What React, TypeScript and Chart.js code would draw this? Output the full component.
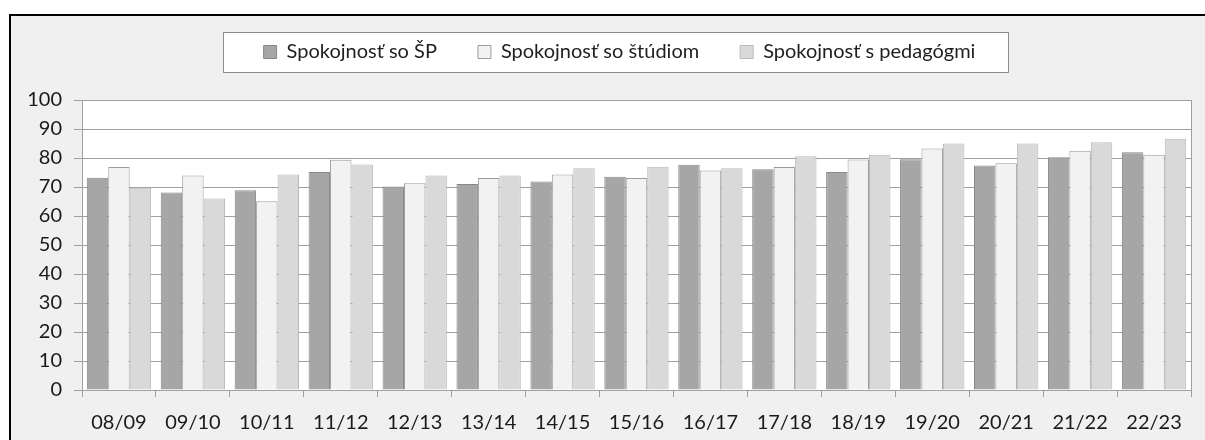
import React, { useEffect, useRef } from "react";
import { Chart, registerables } from "chart.js";

Chart.register(...registerables);

const categories = ["08/09", "09/10", "10/11", "11/12", "12/13", "13/14", "14/15", "15/16", "16/17", "17/18", "18/19", "19/20", "20/21", "21/22", "22/23"];
const seriesNames = ["Spokojnosť so ŠP", "Spokojnosť so štúdiom", "Spokojnosť s pedagógmi"];
const spokojnostSP = [73.2, 68.1, 68.9, 75.2, 70.2, 71.0, 71.9, 73.5, 77.7, 76.1, 75.2, 79.6, 77.4, 80.3, 82.0];
const spokojnostStudium = [76.9, 74.0, 65.1, 79.4, 71.3, 73.1, 74.3, 73.1, 75.7, 76.9, 79.5, 83.3, 78.2, 82.5, 81.1];
const spokojnostPedagogovia = [69.7, 66.0, 74.3, 77.8, 74.0, 74.0, 76.5, 77.0, 76.5, 80.6, 81.1, 85.0, 85.0, 85.4, 86.6];
const yMin = 0;
const yMax = 100;
const yStep = 10;

const FONT = "Lato, 'Open Sans', sans-serif";

const framePlugin = {
  id: "framePlugin",
  afterInit(chart: any) {
    const lg = chart.legend;
    if (lg) {
      const orig = lg.fit.bind(lg);
      lg.fit = () => {
        orig();
        lg.height = 100;
      };
    }
  },
  afterLayout(chart: any) {
    const lg = chart.legend;
    if (lg) {
      lg.left += 24;
      lg.right += 24;
      lg.top += 1;
      lg.bottom += 1;
    }
  },
  beforeDraw(chart: any) {
    const ctx = chart.ctx;
    const a = chart.chartArea;
    ctx.save();
    ctx.fillStyle = "#ffffff";
    ctx.fillRect(a.left, a.top, a.right - a.left, a.bottom - a.top);
    const lg = chart.legend;
    if (lg && lg.legendHitBoxes && lg.legendHitBoxes.length) {
      const hb = lg.legendHitBoxes;
      let minL = Infinity, maxR = -Infinity, top = Infinity;
      for (const h of hb) {
        minL = Math.min(minL, h.left);
        maxR = Math.max(maxR, h.left + h.width);
        top = Math.min(top, h.top);
      }
      const x0 = Math.round(minL - 41) + 0.5;
      const x1 = Math.round(maxR + 33) + 0.5;
      const y0 = Math.round(top - 10) + 0.5;
      const y1 = Math.round(top + 30) + 0.5;
      ctx.fillStyle = "#ffffff";
      ctx.fillRect(x0, y0, x1 - x0, y1 - y0);
      ctx.strokeStyle = "#8c8c8c";
      ctx.lineWidth = 1;
      ctx.strokeRect(x0, y0, x1 - x0, y1 - y0);
    }
    ctx.restore();
  },
  beforeDatasetsDraw(chart: any) {
    const ctx = chart.ctx;
    const a = chart.chartArea;
    ctx.save();
    ctx.strokeStyle = "#a0a0a0";
    ctx.lineWidth = 1;
    ctx.beginPath();
    ctx.moveTo(Math.round(a.right) + 0.5, a.top);
    ctx.lineTo(Math.round(a.right) + 0.5, a.bottom);
    ctx.stroke();
    ctx.restore();
  },
};

export default function App() {
  const ref = useRef<HTMLCanvasElement | null>(null);

  useEffect(() => {
    if (!ref.current) return;
    const chart = new Chart(ref.current, {
      type: "bar",
      data: {
        labels: categories,
        datasets: [
          {
            label: seriesNames[0],
            data: spokojnostSP,
            backgroundColor: "#a6a6a6",
            borderColor: "#878787",
            borderWidth: 1,
          },
          {
            label: seriesNames[1],
            data: spokojnostStudium,
            backgroundColor: "#f2f2f2",
            borderColor: "#9c9c9c",
            borderWidth: 1,
          },
          {
            label: seriesNames[2],
            data: spokojnostPedagogovia,
            backgroundColor: "#d9d9d9",
            borderColor: "#b9b9b9",
            borderWidth: 1,
          },
        ],
      },
      options: {
        responsive: false,
        animation: false,
        devicePixelRatio: 1,
        layout: { padding: { left: 0, right: 14, top: 0, bottom: 0 } },
        datasets: {
          bar: { categoryPercentage: 0.87, barPercentage: 1.0 },
        },
        plugins: {
          tooltip: { enabled: false },
          legend: {
            display: true,
            position: "top",
            labels: {
              boxWidth: 13,
              boxHeight: 13,
              padding: 41,
              color: "#1f1f1f",
              font: { family: FONT, size: 20 },
            },
          },
        },
        scales: {
          x: {
            afterFit: (s: any) => {
              s.height = 50;
            },
            grid: {
              offset: true,
              drawOnChartArea: false,
              drawTicks: true,
              tickLength: 7,
              color: "#a0a0a0",
            },
            border: { display: true, color: "#a0a0a0" },
            ticks: {
              color: "#1a1a1a",
              font: { family: FONT, size: 20 },
              padding: 14,
              maxRotation: 0,
              autoSkip: false,
            },
          },
          y: {
            min: yMin,
            max: yMax,
            afterFit: (s: any) => {
              s.width = 82;
            },
            grid: {
              color: "#a0a0a0",
              drawTicks: true,
              tickLength: 8,
            },
            border: { display: true, color: "#a0a0a0" },
            ticks: {
              stepSize: yStep,
              color: "#1a1a1a",
              font: { family: FONT, size: 20 },
              padding: 12,
            },
          },
        },
      },
      plugins: [framePlugin],
    });
    return () => chart.destroy();
  }, []);

  return (
    <div style={{ position: "fixed", left: 0, top: 0, width: 1205, height: 440, background: "#ffffff", overflow: "hidden" }}>
      <div
        style={{
          position: "absolute",
          left: 9,
          top: 14,
          width: 1194,
          height: 424,
          borderTop: "2px solid #000",
          borderLeft: "2px solid #000",
          background: "#f0f0f0",
        }}
      />
      <canvas ref={ref} width={1205} height={440} style={{ position: "absolute", left: 0, top: 0, width: 1205, height: 440 }} />
    </div>
  );
}
